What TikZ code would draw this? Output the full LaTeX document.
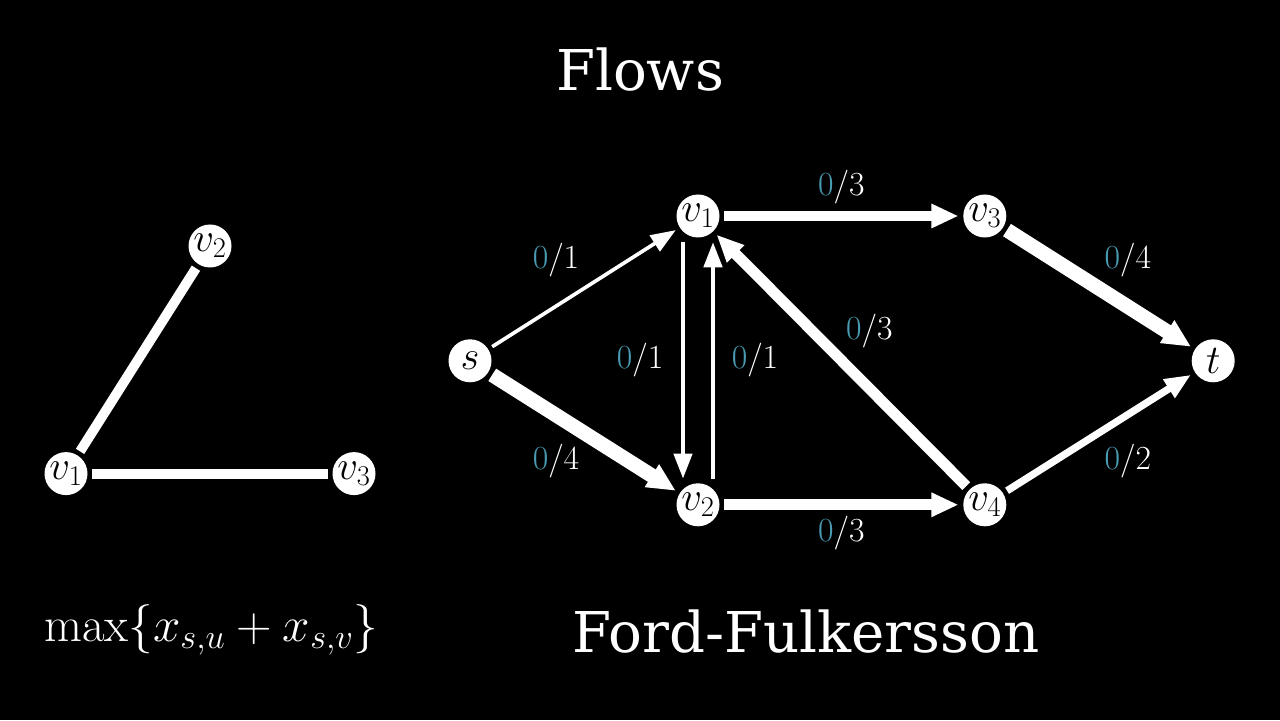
\RequirePackage{fix-cm}
\documentclass[tikz,border=0pt]{standalone}
\usepackage{amsmath}
\usepackage{amssymb}
\usepackage{fontspec}
\usetikzlibrary{arrows.meta}

\newfontfamily\titlefont{DejaVu Serif}
\definecolor{flowblue}{RGB}{72,155,178}
\newcommand{\flowlbl}[2]{$\textcolor{flowblue}{#1}/#2$}

\begin{document}
\begin{tikzpicture}[
  font=\fontsize{24}{28}\selectfont,
  vtx/.style={circle, fill=white, text=black, minimum size=10.75mm, inner sep=0pt, outer sep=1.2mm,
    font=\fontsize{29}{32}\selectfont},
  plainedge/.style={white, line width=7pt},
  flow/.style={white, line width=#1*2.6pt, -{Triangle[length=17pt 0.3, width=11.5pt 0.6]}},
  lbl/.style={midway, text=white},
  title/.style={white, font=\titlefont\fontsize{40}{46}\selectfont},
]

% ---------- canvas ----------
\fill[black] (0,0) rectangle (32,18);
\useasboundingbox (0,0) rectangle (32,18);

\node[title] (head) at (16,16.25) {Flows};

% =====================================================
% LEFT : small undirected graph
% =====================================================
\node[vtx] (a1) at (1.65,6.16)  {$v_1$};
\node[vtx] (a2) at (5.25,11.85) {$v_2$};
\node[vtx] (a3) at (8.85,6.16)  {$v_3$};

\draw[plainedge] (a1) -- (a2);
\draw[plainedge] (a1) -- (a3);

\node[white, font=\fontsize{35}{40}\selectfont] (obj) at (5.28,2.25) {$\max\{x_{s,u}+x_{s,v}\}$};

% =====================================================
% RIGHT : flow network, width ~ capacity
% =====================================================
\node[vtx] (s)  at (11.75,8.98)  {$s$};
\node[vtx] (v1) at (17.45,12.6)  {$v_1$};
\node[vtx] (v2) at (17.45,5.38)  {$v_2$};
\node[vtx] (v3) at (24.62,12.6)  {$v_3$};
\node[vtx] (v4) at (24.62,5.38)  {$v_4$};
\node[vtx] (t)  at (30.33,8.98)  {$t$};

\draw[flow=1] (s) -- (v1) node[lbl, xshift=-7mm, yshift=7mm]  {\flowlbl{0}{1}};
\draw[flow=4] (s) -- (v2) node[lbl, xshift=-7mm, yshift=-7mm] {\flowlbl{0}{4}};

% antiparallel pair v1 <-> v2
\draw[flow=1] ([xshift=-3.75mm]v1.south) -- ([xshift=-3.75mm]v2.north)
  node[lbl, xshift=-10.7mm] {\flowlbl{0}{1}};
\draw[flow=1] ([xshift=3.75mm]v2.north) -- ([xshift=3.75mm]v1.south)
  node[lbl, xshift=10.5mm] {\flowlbl{0}{1}};

\draw[flow=3] (v1) -- (v3) node[lbl, yshift=7.2mm]  {\flowlbl{0}{3}};
\draw[flow=3] (v2) -- (v4) node[lbl, yshift=-7mm]  {\flowlbl{0}{3}};
\draw[flow=3] (v4) -- (v1) node[lbl, xshift=7mm, yshift=7.4mm] {\flowlbl{0}{3}};

\draw[flow=4] (v3) -- (t) node[lbl, xshift=7.2mm, yshift=7mm]  {\flowlbl{0}{4}};
\draw[flow=2] (v4) -- (t) node[lbl, xshift=7.2mm, yshift=-7mm] {\flowlbl{0}{2}};

\node[title] (algo) at (20.15,2.2) {Ford-Fulkersson};

\end{tikzpicture}
\end{document}
